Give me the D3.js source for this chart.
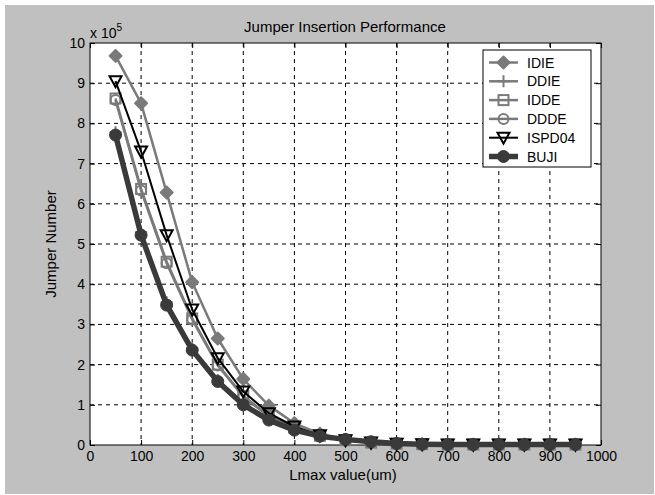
<!DOCTYPE html>
<html><head><meta charset="utf-8">
<script src="https://cdn.jsdelivr.net/npm/d3@7"></script>
<style>body{margin:0;background:#fff;}svg{display:block;font-family:"Liberation Sans",Arial,sans-serif;}</style>
</head><body><svg id="c" width="655" height="495"></svg>
<script>
// Lmax values (um)
const lmax = [50,100,150,200,250,300,350,400,450,500,550,600,650,700,750,800,850,900,950];
// Jumper numbers in units of 10^5
const IDIE   = [9.68,8.50,6.28,4.05,2.65,1.64,0.98,0.54,0.28,0.12,0.06,0.03,0.02,0.01,0.01,0.01,0.01,0.01,0.01];
const DDIE   = [7.78,5.30,3.55,2.40,1.62,1.03,0.64,0.39,0.23,0.14,0.08,0.04,0.02,0.01,0.01,0.01,0.01,0.01,0.01];
const IDDE   = [8.62,6.37,4.56,3.15,2.00,1.22,0.72,0.42,0.23,0.12,0.06,0.03,0.02,0.01,0.01,0.01,0.01,0.01,0.01];
const DDDE   = [8.58,6.33,4.52,3.12,1.98,1.20,0.71,0.41,0.22,0.12,0.06,0.03,0.02,0.01,0.01,0.01,0.01,0.01,0.01];
const ISPD04 = [9.05,7.30,5.22,3.37,2.16,1.33,0.79,0.46,0.24,0.12,0.06,0.03,0.02,0.01,0.01,0.01,0.01,0.01,0.01];
const BUJI   = [7.71,5.22,3.48,2.36,1.58,1.00,0.62,0.37,0.22,0.14,0.08,0.04,0.02,0.01,0.01,0.01,0.01,0.01,0.01];
const seriesNames = ["IDIE","DDIE","IDDE","DDDE","ISPD04","BUJI"];
const xTicks = [0,100,200,300,400,500,600,700,800,900,1000];
const yTicks = [0,1,2,3,4,5,6,7,8,9,10];

const series = [
  {name:"IDIE", values:IDIE, color:"#7a7a7a", width:2.5, marker:"diamond", fill:"#7a7a7a"},
  {name:"DDIE", values:DDIE, color:"#7a7a7a", width:2.5, marker:"plus", fill:"none"},
  {name:"IDDE", values:IDDE, color:"#7a7a7a", width:2.5, marker:"square", fill:"none"},
  {name:"DDDE", values:DDDE, color:"#7a7a7a", width:2.5, marker:"circle", fill:"none"},
  {name:"ISPD04", values:ISPD04, color:"#000000", width:2, marker:"triangle", fill:"none"},
  {name:"BUJI", values:BUJI, color:"#3a3a3a", width:5.5, marker:"dot", fill:"#3a3a3a"}
];

const svg = d3.select("#c");
svg.append("rect").attr("x",5).attr("y",5).attr("width",649).attr("height",489).attr("fill","#c0c0c0");

const L=90, R=601, T=43, B=445;
const x = d3.scaleLinear().domain([0,1000]).range([L,R]);
const y = d3.scaleLinear().domain([0,10]).range([B,T]);

svg.append("rect").attr("x",L).attr("y",T).attr("width",R-L).attr("height",B-T).attr("fill","#fff");

// grid
const g = svg.append("g");
g.selectAll(".gx").data(xTicks.slice(1,-1)).join("line")
  .attr("x1",d=>x(d)).attr("x2",d=>x(d)).attr("y1",T).attr("y2",B)
  .attr("stroke","#000").attr("stroke-width",1).attr("stroke-dasharray","4,4");
g.selectAll(".gy").data(yTicks.slice(1,-1)).join("line")
  .attr("y1",d=>y(d)).attr("y2",d=>y(d)).attr("x1",L).attr("x2",R)
  .attr("stroke","#000").attr("stroke-width",1).attr("stroke-dasharray","4,4");

// axes with inward ticks
const fmt = d3.format("d");
const axB = svg.append("g").attr("transform",`translate(0,${B})`).call(d3.axisBottom(x).tickValues(xTicks).tickSize(-5).tickPadding(6).tickFormat(fmt));
const axT = svg.append("g").attr("transform",`translate(0,${T})`).call(d3.axisTop(x).tickValues(xTicks).tickSize(-5).tickFormat(""));
const axL = svg.append("g").attr("transform",`translate(${L},0)`).call(d3.axisLeft(y).tickValues(yTicks).tickSize(-5).tickPadding(5).tickFormat(fmt));
const axR = svg.append("g").attr("transform",`translate(${R},0)`).call(d3.axisRight(y).tickValues(yTicks).tickSize(-5).tickFormat(""));
[axB,axT,axL,axR].forEach(a=>{
  a.select(".domain").remove();
  a.selectAll("line").attr("stroke","#000");
  a.selectAll("text").attr("fill","#000").attr("font-size",14).attr("font-family","Liberation Sans, Arial, sans-serif");
});
svg.append("rect").attr("x",L).attr("y",T).attr("width",R-L).attr("height",B-T).attr("fill","none").attr("stroke","#000").attr("stroke-width",1);

function drawMarker(sel, s, cx, cy){
  const m = s.marker;
  if(m==="diamond"){
    sel.append("path").attr("d",`M${cx},${cy-6}L${cx+6},${cy}L${cx},${cy+6}L${cx-6},${cy}Z`).attr("fill",s.fill).attr("stroke",s.color).attr("stroke-width",2).attr("stroke-linejoin","round");
  } else if(m==="plus"){
    sel.append("path").attr("d",`M${cx-6},${cy}H${cx+6}M${cx},${cy-6}V${cy+6}`).attr("stroke",s.color).attr("stroke-width",2);
  } else if(m==="square"){
    sel.append("rect").attr("x",cx-5).attr("y",cy-5).attr("width",10).attr("height",10).attr("fill","none").attr("stroke",s.color).attr("stroke-width",2);
  } else if(m==="circle"){
    sel.append("circle").attr("cx",cx).attr("cy",cy).attr("r",5).attr("fill","none").attr("stroke",s.color).attr("stroke-width",2);
  } else if(m==="triangle"){
    sel.append("path").attr("d",`M${cx-6},${cy-5}L${cx+6},${cy-5}L${cx},${cy+6}Z`).attr("fill","none").attr("stroke",s.color).attr("stroke-width",2);
  } else if(m==="dot"){
    sel.append("circle").attr("cx",cx).attr("cy",cy).attr("r",6).attr("fill",s.fill).attr("stroke",s.color).attr("stroke-width",1);
  }
}

const line = d3.line().x((d,i)=>x(lmax[i])).y(d=>y(d));
const plot = svg.append("g");
series.forEach(s=>{
  const sg = plot.append("g");
  sg.append("path").datum(s.values).attr("d",line).attr("fill","none").attr("stroke",s.color).attr("stroke-width",s.width).attr("stroke-linejoin","round");
  s.values.forEach((v,i)=>drawMarker(sg,s,x(lmax[i]),y(v)));
});

// legend
const lg = svg.append("g");
lg.append("rect").attr("x",483).attr("y",50).attr("width",108).attr("height",117).attr("fill","#fff").attr("stroke","#000").attr("stroke-width",1);
series.forEach((s,i)=>{
  const cy = 62.5 + i*18.8;
  lg.append("line").attr("x1",489).attr("x2",518).attr("y1",cy).attr("y2",cy).attr("stroke",s.color).attr("stroke-width",s.width);
  drawMarker(lg,s,503.5,cy);
  lg.append("text").attr("x",527).attr("y",cy+5).attr("font-size",14).text(seriesNames[i]);
});

// titles
svg.append("text").attr("x",345).attr("y",32).attr("text-anchor","middle").attr("font-size",15).text("Jumper Insertion Performance");
svg.append("text").attr("x",343).attr("y",480).attr("text-anchor","middle").attr("font-size",15).text("Lmax value(um)");
svg.append("text").attr("transform","translate(56,244) rotate(-90)").attr("text-anchor","middle").attr("font-size",15).text("Jumper Number");
const ex = svg.append("text").attr("x",90).attr("y",38).attr("font-size",14);
ex.append("tspan").text("x 10");
ex.append("tspan").attr("dy",-7).attr("font-size",10).text("5");
</script></body></html>
